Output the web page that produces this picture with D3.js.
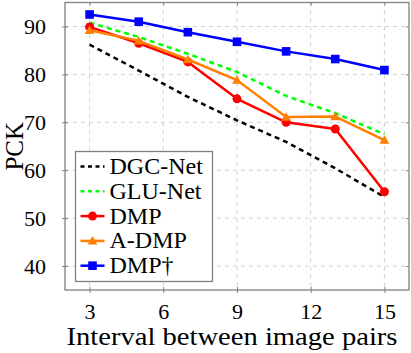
<!DOCTYPE html>
<html>
<head>
<meta charset="utf-8">
<script src="https://cdn.jsdelivr.net/npm/d3@7"></script>
<style>
  body { margin: 0; background: #fff; }
</style>
</head>
<body>
<div id="chart"></div>
<script>
var w = 411, h = 353;
var font = "'Liberation Serif', serif";

// data
var intervals = [3, 5, 7, 9, 11, 13, 15];
var dgcNet  = [86.2, 80.8, 75.3, 70.4, 65.9, 60.4, 54.4];
var gluNet  = [90.8, 87.8, 84.3, 80.5, 75.5, 71.9, 67.5];
var dmp     = [89.9, 86.5, 82.6, 74.9, 70.0, 68.6, 55.5];
var aDmp    = [89.2, 87.0, 83.1, 78.8, 71.1, 71.2, 66.3];
var dmpDag  = [92.5, 91.0, 88.8, 86.8, 84.8, 83.2, 80.9];
var xTicks = [3, 6, 9, 12, 15];
var yTicks = [40, 50, 60, 70, 80, 90];

var series = [
  {name: "DGC-Net", values: dgcNet, color: "#000000", dash: "5,4", marker: null},
  {name: "GLU-Net", values: gluNet, color: "#00ff00", dash: "5,4", marker: null},
  {name: "DMP",     values: dmp,    color: "#ff0000", dash: null,  marker: "circle"},
  {name: "A-DMP",   values: aDmp,   color: "#ff8000", dash: null,  marker: "triangle"},
  {name: "DMP\u2020", values: dmpDag, color: "#0000ff", dash: null, marker: "square"}
];

var margin = {top: 2.5, right: 2, bottom: 63, left: 65},
    width = w - margin.left - margin.right,
    height = h - margin.top - margin.bottom;

var svg = d3.select("#chart").append("svg")
    .attr("width", w).attr("height", h)
    .attr("font-family", font);
var g = svg.append("g")
    .attr("transform", "translate(" + margin.left + "," + margin.top + ")");

var x = d3.scaleLinear().domain([2, 16]).range([0, width]);
var y = d3.scaleLinear().domain([35, 95]).range([height, 0]);

// grid
g.selectAll(".vgrid").data(xTicks).enter().append("line")
    .attr("x1", function(d) { return x(d); }).attr("x2", function(d) { return x(d); })
    .attr("y1", 0).attr("y2", height)
    .attr("stroke", "#d0d0d0").attr("stroke-dasharray", "4,4");
g.selectAll(".hgrid").data(yTicks).enter().append("line")
    .attr("y1", function(d) { return y(d); }).attr("y2", function(d) { return y(d); })
    .attr("x1", 0).attr("x2", width)
    .attr("stroke", "#d0d0d0").attr("stroke-dasharray", "4,4");

// axes (ticks centered on the frame, mirrored)
var axisColor = "#808080";
function styleAxis(sel) {
  sel.attr("font-family", font);
  sel.select(".domain").remove();
  sel.selectAll(".tick line").attr("stroke", axisColor);
  sel.selectAll(".tick text").style("font-family", font).style("font-size", "22px");
}
g.append("g").attr("transform", "translate(0," + height + ")")
    .call(d3.axisBottom(x).tickValues(xTicks).tickSize(6).tickPadding(7))
    .call(styleAxis)
    .selectAll(".tick line").attr("y1", -3).attr("y2", 3);
g.append("g")
    .call(d3.axisLeft(y).tickValues(yTicks).tickSize(6).tickPadding(13))
    .call(styleAxis)
    .selectAll(".tick line").attr("x1", -3).attr("x2", 3);
g.append("g")
    .call(d3.axisTop(x).tickValues(xTicks).tickSize(0).tickFormat(""))
    .call(styleAxis)
    .selectAll(".tick line").attr("y1", 0).attr("y2", 3);
g.append("g").attr("transform", "translate(" + width + ",0)")
    .call(d3.axisRight(y).tickValues(yTicks).tickSize(0).tickFormat(""))
    .call(styleAxis)
    .selectAll(".tick line").attr("x1", -3).attr("x2", 0);

g.append("rect")
    .attr("width", width).attr("height", height)
    .attr("fill", "none").attr("stroke", axisColor).attr("stroke-width", 1.3);

// axis titles
svg.append("text")
    .attr("x", margin.left + width / 2 - 5).attr("y", 345)
    .attr("text-anchor", "middle")
    .style("font-family", font)
    .style("font-size", "25px")
    .attr("textLength", 331)
    .attr("lengthAdjust", "spacingAndGlyphs")
    .text("Interval between image pairs");
svg.append("text")
    .attr("transform", "translate(23," + (margin.top + height / 2) + ") rotate(-90)")
    .attr("text-anchor", "middle")
    .style("font-family", font)
    .style("font-size", "25px")
    .text("PCK");

// lines
var line = d3.line()
  .x(function(d, i) { return x(intervals[i]); })
  .y(function(d) { return y(d); });

function drawMarker(sel, type, color, cx, cy) {
  if (type === "circle") {
    sel.append("circle").attr("cx", cx).attr("cy", cy).attr("r", 4.5).attr("fill", color);
  } else if (type === "square") {
    sel.append("rect").attr("x", cx - 4.3).attr("y", cy - 4.3)
      .attr("width", 8.6).attr("height", 8.6).attr("fill", color);
  } else if (type === "triangle") {
    sel.append("path")
      .attr("d", d3.symbol().type(d3.symbolTriangle).size(42)())
      .attr("transform", "translate(" + cx + "," + (cy + 0.8) + ")")
      .attr("fill", color);
  }
}

series.forEach(function(s) {
  var sg = g.append("g");
  sg.append("path")
    .datum(s.values)
    .attr("fill", "none")
    .attr("stroke", s.color)
    .attr("stroke-width", 2.5)
    .attr("stroke-dasharray", s.dash)
    .attr("stroke-linejoin", "round")
    .attr("d", line);
  if (s.marker) {
    s.values.forEach(function(v, i) {
      drawMarker(sg, s.marker, s.color, x(intervals[i]), y(v));
    });
  }
});

// legend
var lg = svg.append("g").attr("transform", "translate(75.5,151.5)");
lg.append("rect")
    .attr("width", 137).attr("height", 130)
    .attr("fill", "#fff").attr("stroke", axisColor).attr("stroke-width", 1.3);
series.forEach(function(s, i) {
  var cy = 15 + i * 24.8;
  lg.append("line")
    .attr("x1", 5).attr("x2", 29).attr("y1", cy).attr("y2", cy)
    .attr("stroke", s.color).attr("stroke-width", 2.5)
    .attr("stroke-dasharray", s.dash ? "4,3.5" : null);
  if (s.marker) drawMarker(lg, s.marker, s.color, 17, cy);
  lg.append("text")
    .attr("x", 34).attr("y", cy + 7.5)
    .style("font-family", font)
    .style("font-size", "24px")
    .text(s.name);
});
</script>
</body>
</html>
